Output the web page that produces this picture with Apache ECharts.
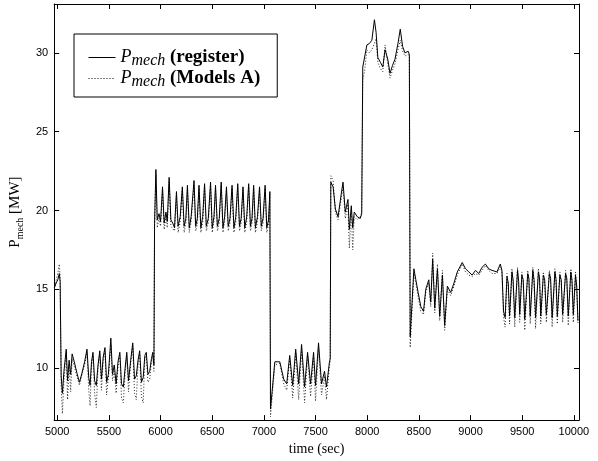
<!DOCTYPE html>
<html>
<head>
<meta charset="utf-8">
<script src="https://cdn.jsdelivr.net/npm/echarts@6/dist/echarts.min.js"></script>
<style>
    html, body { margin: 0; padding: 0; background: #fff; }
    #pmech { width: 598px; height: 461px; }
</style>
</head>
<body>
<div id="pmech"></div>
<script>
// time (sec), shared by both series
var timeSec = [
    4972, 4990, 5005, 5020, 5028,
    5038, 5050, 5065, 5087, 5100, 5115, 5130, 5144, 5165, 5190, 5215, 5240, 5265, 5288, 5305, 5318, 5332, 5346,
    5362, 5378, 5395, 5412, 5428, 5445, 5462, 5478, 5495, 5519, 5535, 5552, 5570, 5588, 5606, 5622, 5640, 5657,
    5673, 5690, 5711, 5731, 5748, 5765, 5782, 5798, 5815, 5832, 5848, 5862, 5878, 5895, 5912, 5925, 5936,
    5942, 5955, 5968, 5985, 6000, 6019, 6035, 6052, 6065, 6083, 6100, 6118, 6135, 6154, 6170, 6190, 6211, 6228,
    6245, 6260, 6278, 6296, 6324, 6340, 6356, 6372, 6390, 6408, 6426, 6443, 6462, 6484, 6500, 6517, 6532, 6550,
    6568, 6587, 6604, 6620, 6638, 6655, 6672, 6692, 6710, 6728, 6747, 6764, 6780, 6798, 6815, 6834, 6853, 6870,
    6885, 6901, 6918, 6938, 6958, 6975, 6992, 7012, 7028, 7045, 7058,
    7064, 7106, 7154, 7192, 7221, 7250, 7279, 7308, 7337, 7365, 7394, 7423, 7452, 7481, 7500, 7529, 7558, 7587,
    7606, 7635, 7642,
    7648, 7670, 7692, 7718, 7750, 7766, 7788, 7814, 7827, 7846, 7860, 7875, 7904, 7933, 7947,
    7957, 7974, 7997, 8022, 8045, 8070, 8086, 8103, 8128, 8151, 8173, 8199, 8221, 8245, 8269, 8298, 8320, 8343,
    8365, 8397, 8408,
    8416, 8452, 8471, 8493, 8519, 8545, 8567, 8596, 8615, 8634, 8654, 8680, 8702, 8728, 8750, 8776, 8808, 8840,
    8872, 8920, 8952, 8984, 9016, 9048, 9080, 9112, 9144, 9176, 9208, 9256, 9288, 9304,
    9320, 9335, 9353, 9365, 9378, 9401, 9412, 9428, 9455, 9466, 9476, 9497, 9510, 9525, 9554, 9565, 9578, 9603,
    9615, 9630, 9657, 9668, 9680, 9705, 9718, 9734, 9763, 9775, 9790, 9817, 9828, 9840, 9865, 9878, 9892, 9920,
    9932, 9946, 9971, 9982, 9995, 10016, 10028, 10040
];

// Pmech (register) [MW]
var register = [
    15.1, 15.4, 15.6, 16.0, 15.5,
    9.5, 8.4, 9.8, 11.2, 9.2, 10.5, 9.6, 10.9, 10.4, 9.7, 9.1, 9.7, 10.4, 11.2, 9.4, 8.9, 10.4, 11.0,
    9.2, 8.9, 10.2, 11.1, 9.3, 10.7, 11.3, 9.1, 9.6, 11.9, 9.6, 10.2, 9.0, 10.4, 11.0, 9.0, 8.8, 10.0,
    11.0, 9.2, 10.5, 11.6, 9.3, 9.5, 10.5, 11.1, 9.1, 9.4, 10.8, 11.0, 9.6, 9.8, 10.6, 11.0, 10.2,
    19.2, 22.6, 19.4, 19.8, 19.3, 21.5, 19.2, 19.9, 19.3, 22.1, 19.4, 19.2, 18.9, 21.2, 19.0, 19.6, 21.5, 19.0,
    19.5, 21.6, 18.9, 19.6, 21.9, 19.0, 19.5, 21.6, 18.9, 19.6, 21.7, 19.0, 19.5, 21.8, 18.9, 19.6, 21.6, 19.0,
    19.5, 21.8, 18.9, 19.6, 21.5, 19.0, 19.5, 21.6, 18.9, 19.6, 21.7, 19.0, 19.5, 21.5, 18.9, 19.6, 21.7, 19.0,
    19.5, 21.6, 18.9, 19.6, 21.5, 19.0, 19.5, 21.6, 18.9, 19.4, 21.2,
    7.4, 10.4, 10.4, 9.3, 9.0, 10.8, 8.9, 11.2, 9.0, 11.5, 8.8, 11.0, 9.0, 11.0, 8.9, 11.6, 9.0, 9.8,
    8.8, 10.4, 10.6,
    21.8, 21.5, 20.1, 19.6, 21.1, 21.8, 19.9, 20.7, 18.8, 20.3, 18.9, 19.9, 19.6, 19.5, 19.8,
    29.1, 29.1, 30.5, 30.6, 30.8, 32.1, 31.3, 29.7, 29.4, 29.1, 30.2, 29.6, 28.7, 29.2, 29.6, 30.6, 31.5, 30.4,
    30.0, 30.1, 29.9,
    12.0, 16.3, 15.6, 14.8, 13.9, 13.6, 15.0, 15.6, 14.2, 16.9, 13.8, 16.3, 13.3, 15.9, 12.7, 15.2, 14.8, 15.4,
    16.1, 16.7, 16.3, 16.1, 15.9, 16.2, 16.0, 16.4, 16.6, 16.3, 16.2, 16.1, 16.6, 16.2,
    13.6, 13.2, 15.8, 15.4, 13.3, 16.1, 15.6, 13.2, 16.2, 15.5, 13.4, 15.9, 15.6, 13.1, 16.0, 15.7, 13.3, 16.2,
    15.6, 13.2, 16.1, 15.7, 13.3, 15.9, 15.6, 13.4, 16.0, 15.7, 13.2, 16.1, 15.6, 13.3, 15.9, 15.6, 13.4, 16.0,
    15.7, 13.3, 16.1, 15.6, 13.4, 15.9, 15.2, 13.0
];

// Pmech (Models A) [MW]
var modelsA = [
    15.0, 15.6, 16.0, 16.6, 15.8,
    9.0, 7.1, 9.2, 11.0, 8.0, 10.2, 8.5, 10.6, 10.1, 9.5, 8.9, 9.6, 10.2, 11.0, 8.6, 7.6, 10.2, 10.8,
    8.4, 7.5, 10.0, 10.9, 8.6, 10.5, 11.1, 8.3, 9.4, 11.5, 9.2, 9.8, 8.4, 10.1, 10.8, 8.1, 7.8, 9.7,
    10.8, 8.5, 10.3, 11.4, 8.4, 8.0, 10.2, 10.9, 8.2, 7.8, 10.6, 10.8, 9.1, 9.3, 10.4, 10.8, 9.8,
    19.0, 22.3, 18.9, 19.5, 19.0, 21.2, 18.8, 19.6, 18.9, 21.8, 19.0, 18.9, 18.7, 20.9, 18.6, 19.3, 21.3, 18.6,
    19.2, 21.3, 18.6, 19.3, 21.6, 18.7, 19.1, 21.4, 18.6, 19.3, 21.5, 18.7, 19.2, 21.5, 18.6, 19.3, 21.4, 18.7,
    19.2, 21.6, 18.6, 19.3, 21.3, 18.7, 19.2, 21.4, 18.6, 19.3, 21.5, 18.7, 19.2, 21.3, 18.6, 19.3, 21.5, 18.7,
    19.2, 21.4, 18.6, 19.3, 21.3, 18.7, 19.2, 21.4, 18.6, 19.1, 21.0,
    6.9, 10.2, 10.3, 9.0, 8.6, 10.6, 8.1, 11.0, 8.0, 11.2, 7.8, 10.8, 8.2, 10.7, 7.9, 11.3, 8.3, 9.5,
    8.0, 10.2, 10.4,
    22.2, 21.9, 19.9, 19.4, 20.8, 21.5, 19.5, 20.4, 17.6, 20.0, 17.5, 19.6, 19.4, 19.6, 19.9,
    28.3, 28.8, 30.2, 30.0, 30.2, 30.6, 30.9, 29.4, 29.0, 28.8, 30.5, 29.3, 28.4, 28.9, 29.3, 30.2, 30.8, 30.1,
    29.8, 29.9, 29.7,
    11.3, 16.0, 15.4, 14.5, 13.6, 13.4, 14.8, 15.4, 13.9, 17.3, 13.5, 16.6, 13.0, 16.2, 12.4, 15.0, 14.6, 15.2,
    15.9, 16.6, 16.1, 15.9, 15.8, 16.0, 15.9, 16.2, 16.5, 16.2, 16.0, 16.0, 16.4, 16.1,
    13.2, 12.6, 16.0, 15.2, 12.8, 16.3, 15.4, 12.6, 16.4, 15.3, 12.9, 16.1, 15.4, 12.4, 16.2, 15.5, 12.8, 16.4,
    15.4, 12.5, 16.3, 15.5, 12.8, 16.1, 15.4, 12.9, 16.2, 15.5, 12.6, 16.3, 15.4, 12.8, 16.1, 15.4, 12.9, 16.2,
    15.5, 12.7, 16.3, 15.4, 12.9, 16.1, 15.0, 12.8
];

var xTicks = [5000, 5500, 6000, 6500, 7000, 7500, 8000, 8500, 9000, 9500, 10000];
var yTicks = [10, 15, 20, 25, 30];

$init();

function $init() {
    var myChart = echarts.init(document.getElementById('pmech'), null, { renderer: 'canvas' });
    myChart.setOption(buildOption());
}

// pair time with value
function pairs(vals) {
    var out = [];
    for (var i = 0; i < timeSec.length; i++) {
        out.push([timeSec[i], vals[i]]);
    }
    return out;
}

// one axis of the box, ticks pointing inside
function boxAxis(pos, min, max, ticks, showLabel, extra) {
    var ax = {
        type: 'value',
        position: pos,
        min: min,
        max: max,
        axisLine: { show: true, onZero: false, lineStyle: { color: '#000', width: 1 } },
        axisTick: { show: true, inside: true, length: 5, customValues: ticks, lineStyle: { color: '#000' } },
        axisLabel: {
            show: showLabel,
            customValues: ticks,
            color: '#000',
            fontFamily: 'Liberation Sans, Arial, sans-serif',
            fontSize: 11,
            margin: 6,
            formatter: function(v) { return String(v); } // no thousands separator
        },
        splitLine: { show: false }
    };
    for (var k in extra) ax[k] = extra[k];
    return ax;
}

function buildOption() {
    var serif = 'Liberation Serif, Times New Roman, serif';
    return {
        animation: false,
        backgroundColor: '#fff',
        grid: { left: 51, right: 19, top: 4, bottom: 40, containLabel: false },
        legend: {
            data: [
                { name: 'register', lineStyle: { width: 1, type: 'solid', color: '#000' } },
                { name: 'Models A', lineStyle: { width: 1, type: [1, 2], color: '#000' } }
            ],
            orient: 'vertical',
            left: 74,
            top: 34,
            padding: [14, 17, 7, 14],
            itemGap: 0,
            itemWidth: 27,
            itemHeight: 10,
            borderColor: '#000',
            borderWidth: 1,
            borderRadius: 0,
            backgroundColor: '#fff',
            itemStyle: { opacity: 0 }, // keep only the line in the key
            formatter: function(name) {
                return '{p|P}{s|mech}{t| (' + name + ')}';
            },
            textStyle: {
                color: '#000',
                rich: {
                    p: { fontFamily: serif, fontStyle: 'italic', fontSize: 18, lineHeight: 23, color: '#000' },
                    s: { fontFamily: serif, fontStyle: 'italic', fontSize: 16, lineHeight: 23, verticalAlign: 'bottom', color: '#000' },
                    t: { fontFamily: serif, fontWeight: 'bold', fontSize: 19, lineHeight: 23, color: '#000' }
                }
            }
        },
        xAxis: [
            boxAxis('bottom', 4970, 10050, xTicks, true, {
                name: 'time (sec)',
                nameLocation: 'middle',
                nameGap: 20,
                nameTextStyle: { fontFamily: serif, fontSize: 14, color: '#000' }
            }),
            boxAxis('top', 4970, 10050, xTicks, false, {})
        ],
        yAxis: [
            boxAxis('left', 6.7, 33.1, yTicks, true, {
                name: '{m|P}{s|mech}{m| [MW]}',
                nameLocation: 'middle',
                nameGap: 22,
                nameTextStyle: {
                    color: '#000',
                    rich: {
                        m: { fontFamily: serif, fontSize: 15, lineHeight: 19, color: '#000' },
                        s: { fontFamily: serif, fontSize: 10, lineHeight: 19, verticalAlign: 'bottom', color: '#000' }
                    }
                }
            }),
            boxAxis('right', 6.7, 33.1, yTicks, false, {})
        ],
        series: [{
                name: 'Models A',
                type: 'line',
                symbol: 'none',
                data: pairs(modelsA),
                lineStyle: { color: '#222', width: 1, type: [1, 2] },
                itemStyle: { color: '#222' }
            },
            {
                name: 'register',
                type: 'line',
                symbol: 'none',
                data: pairs(register),
                lineStyle: { color: '#000', width: 1 },
                itemStyle: { color: '#000' }
            }
        ]
    };
}
</script>
</body>
</html>
